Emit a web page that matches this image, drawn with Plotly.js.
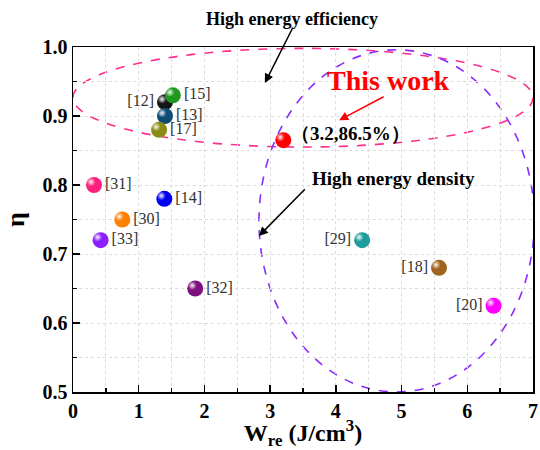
<!DOCTYPE html>
<html>
<head>
<meta charset="utf-8">
<script src="https://cdn.plot.ly/plotly-3.0.1.min.js"></script>
<style>html,body{margin:0;padding:0;background:#fff;}</style>
</head>
<body>
<div id="chart" style="width:540px;height:450px;"></div>
<script>
// Data
const refLabels = ['[12]','[15]','[13]','[17]','[31]','[14]','[30]','[33]','[32]','[29]','[18]','[20]'];
const wre = [1.40, 1.52, 1.40, 1.31, 0.32, 1.39, 0.75, 0.42, 1.86, 4.40, 5.57, 6.40];
const eta = [0.920, 0.930, 0.900, 0.880, 0.800, 0.780, 0.750, 0.720, 0.650, 0.720, 0.680, 0.625];
const refColors = ['#151515','#1f9a1f','#0e4c74','#8c8c14','#ff1f7d','#0000f0','#ff7f00','#8c1fff','#7f107f','#1f9c9c','#a0641e','#ff00ff'];
const labelSide = ['middle left','middle right','middle right','middle right','middle right','middle right','middle right','middle right','middle right','middle left','middle left','middle left'];

const thisWorkX = [3.2];
const thisWorkY = [0.865];

const serif = '"Liberation Serif", serif';

const allX = wre.concat(thisWorkX);
const allY = eta.concat(thisWorkY);

const traces = [
  {
    type: 'scatter', mode: 'markers+text',
    x: wre, y: eta, text: refLabels, textposition: labelSide,
    textfont: {family: serif, size: 16, color: '#333'},
    marker: {size: 16, color: refColors, line: {width: 0}},
    cliponaxis: false, showlegend: false
  },
  {
    type: 'scatter', mode: 'markers',
    x: thisWorkX, y: thisWorkY,
    marker: {size: 16, color: '#ff0000', line: {width: 0}},
    showlegend: false
  },
  // specular highlight drawn on an overlaid, slightly shifted axis pair
  {
    type: 'scatter', mode: 'markers', xaxis: 'x2', yaxis: 'y2',
    x: allX, y: allY,
    marker: {size: 9, color: 'rgba(255,255,255,0)', gradient: {type: 'radial', color: 'rgba(255,255,255,0.95)'}, line: {width: 0}},
    cliponaxis: false, showlegend: false
  }
];

const gridStyle = {gridcolor: '#dcdcdc', griddash: 'dot', gridwidth: 1};
const shiftX = 3 / 65.7;   // ~3 px left
const shiftY = 3 / 690;    // ~3 px up

const layout = {
  width: 540, height: 450,
  margin: {l: 73, r: 7, t: 47, b: 58},
  paper_bgcolor: '#fff', plot_bgcolor: '#fff',
  showlegend: false,
  xaxis: Object.assign({
    range: [0, 7], dtick: 1, tick0: 0,
    ticks: 'inside', ticklen: 7, tickwidth: 1.5, tickcolor: '#000',
    showline: true, linecolor: '#000', linewidth: 1.5, mirror: true,
    zeroline: false, showgrid: true,
    tickfont: {family: serif, size: 20, color: '#000', weight: 'bold'},
    minor: {dtick: 0.5, ticks: 'inside', ticklen: 4, tickwidth: 1.5, tickcolor: '#000', showgrid: true, gridcolor: '#dcdcdc', griddash: 'dot'},
    title: {text: 'W<sub>re</sub> (J/cm<sup>3</sup>)', font: {family: serif, size: 24, color: '#000', weight: 'bold'}, standoff: 2}
  }, gridStyle),
  yaxis: Object.assign({
    range: [0.5, 1.0], dtick: 0.1, tick0: 0.5, tickformat: '.1f',
    ticks: 'inside', ticklen: 7, tickwidth: 1.5, tickcolor: '#000',
    showline: true, linecolor: '#000', linewidth: 1.5, mirror: true,
    zeroline: false, showgrid: true,
    tickfont: {family: serif, size: 20, color: '#000', weight: 'bold'},
    minor: {dtick: 0.05, ticks: 'inside', ticklen: 4, tickwidth: 1.5, tickcolor: '#000', showgrid: true, gridcolor: '#dcdcdc', griddash: 'dot'},
    title: {text: 'η', font: {family: serif, size: 26, color: '#000', weight: 'bold'}, standoff: 10}
  }, gridStyle),
  xaxis2: {overlaying: 'x', range: [0 + shiftX, 7 + shiftX], visible: false, showgrid: false, zeroline: false},
  yaxis2: {overlaying: 'y', range: [0.5 - shiftY, 1.0 - shiftY], visible: false, showgrid: false, zeroline: false},
  shapes: [
    {type: 'circle', xref: 'x', yref: 'y', x0: 0.0, x1: 7.0, y0: 0.855, y1: 0.998,
     line: {color: '#ff2d8c', width: 1.6, dash: 'dash'}, layer: 'below'},
    {type: 'circle', xref: 'x', yref: 'y', x0: 2.83, x1: 7.02, y0: 0.5, y1: 0.996,
     line: {color: '#8a2bff', width: 1.6, dash: 'dash'}, layer: 'below'}
  ],
  annotations: [
    {xref: 'paper', yref: 'paper', x: 0.475, y: 1.0, yshift: 28, xanchor: 'center', yanchor: 'middle',
     text: 'High energy efficiency', showarrow: false,
     font: {family: serif, size: 18, color: '#000', weight: 'bold'}},
    {xref: 'x', yref: 'y', x: 2.92, y: 0.948, axref: 'x', ayref: 'y', ax: 3.35, ay: 1.029,
     text: '', showarrow: true, arrowhead: 2, arrowsize: 1.2, arrowwidth: 1.5, arrowcolor: '#000'},
    {xref: 'x', yref: 'y', x: 4.8, y: 0.951, xanchor: 'center', yanchor: 'middle',
     text: 'This work', showarrow: false,
     font: {family: serif, size: 28, color: '#ff0000', weight: 'bold'}},
    {xref: 'x', yref: 'y', x: 4.05, y: 0.894, axref: 'x', ayref: 'y', ax: 4.75, ay: 0.929,
     text: '', showarrow: true, arrowhead: 2, arrowsize: 1.2, arrowwidth: 1.5, arrowcolor: '#ff0000'},
    {xref: 'x', yref: 'y', x: 4.22, y: 0.875, xanchor: 'center', yanchor: 'middle',
     text: '（3.2,86.5%）', showarrow: false,
     font: {family: serif, size: 19, color: '#000', weight: 'bold'}},
    {xref: 'x', yref: 'y', x: 4.87, y: 0.81, xanchor: 'center', yanchor: 'middle',
     text: 'High energy density', showarrow: false,
     font: {family: serif, size: 19, color: '#000', weight: 'bold'}},
    {xref: 'x', yref: 'y', x: 2.83, y: 0.726, axref: 'x', ayref: 'y', ax: 3.55, ay: 0.796,
     text: '', showarrow: true, arrowhead: 2, arrowsize: 1.2, arrowwidth: 1.5, arrowcolor: '#000'}
  ]
};

Plotly.newPlot('chart', traces, layout, {displayModeBar: false, staticPlot: true});
</script>
</body>
</html>
